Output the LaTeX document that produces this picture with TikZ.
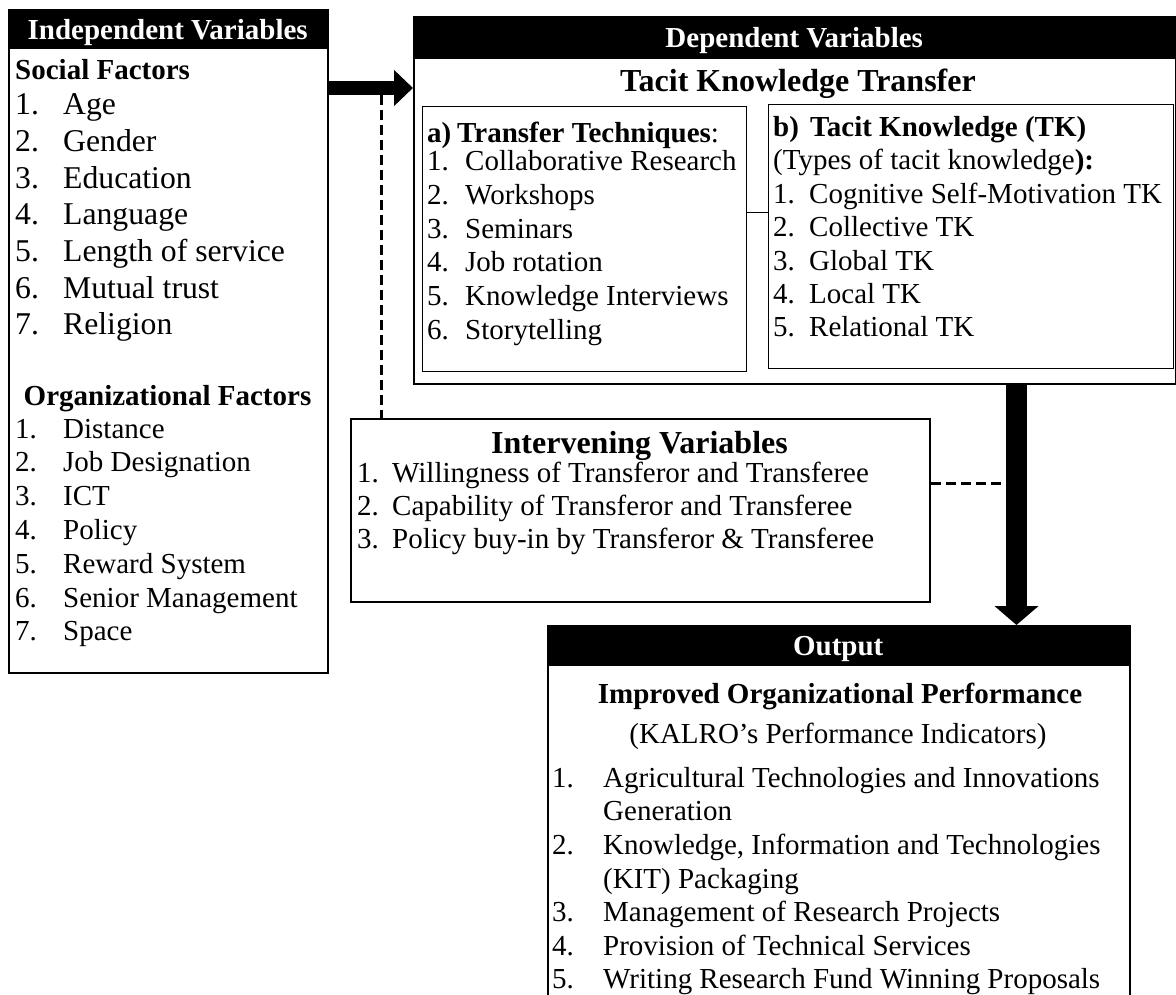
\documentclass[tikz,border=0pt]{standalone}
\usepackage{fontspec}
\setmainfont{Liberation Serif}
\usetikzlibrary{arrows.meta,calc}

\begin{document}
\begin{tikzpicture}[x=1pt,y=-1pt,
  frame/.style={draw,line width=2pt,anchor=north west,inner sep=0pt},
  subbox/.style={draw,line width=1pt,anchor=north west,inner sep=0pt},
  head/.style={fill=black,text=white,anchor=north west,inner sep=0pt,text depth=0pt,font=\bfseries\fontsize{29}{34}\selectfont},
  txt/.style={anchor=base west,inner sep=0pt,font=\fontsize{29}{34}\selectfont},
  bigtxt/.style={txt,font=\fontsize{31.7}{36}\selectfont},
  boldtxt/.style={txt,font=\bfseries\fontsize{29}{34}\selectfont},
  ttl/.style={anchor=base,inner sep=0pt,font=\bfseries\fontsize{32}{38}\selectfont},
  fat/.style={line width=14pt,-{Triangle[length=19pt,width=35pt]}},
  fatter/.style={line width=21pt,-{Triangle[length=19pt,width=43pt]}},
  dashline/.style={line width=3pt,dash pattern=on 10pt off 5pt},
]
\useasboundingbox (0,0) rectangle (1176,995);
\clip (0,0) rectangle (1176,995);

% independent variables
\node[frame,minimum width=319pt,minimum height=663pt] (indep) at (8,9) {};
\node[head,minimum width=319pt,minimum height=40pt] (indephead) at (indep.north west) {Independent Variables};
\node[boldtxt] (social) at (15,80) {Social Factors};
\foreach \t [count=\i] in {Age,Gender,Education,Language,Length of service,Mutual trust,Religion}
  \node[bigtxt] (soc\i) at (15,{115+36.6*(\i-1)}) {\makebox[48pt][l]{\i.}\t};
\node[boldtxt,anchor=base] (orgfac) at (167.5,405) {Organizational Factors};
\foreach \t [count=\i] in {Distance,Job Designation,ICT,Policy,Reward System,Senior Management,Space}
  \node[txt] (org\i) at (15,{438+33.8*(\i-1)}) {\makebox[48pt][l]{\i.}\t};

% dependent variables
\node[frame,minimum width=762pt,minimum height=367pt] (dep) at (413,16) {};
\node[head,minimum width=762pt,minimum height=43pt] (dephead) at (dep.north west) {Dependent Variables};
\node[ttl] (tkt) at (798,92) {Tacit Knowledge Transfer};

\node[subbox,minimum width=324pt,minimum height=265pt] (tech) at (422,106) {};
\node[txt] (techttl) at (427,143) {\makebox[30pt][l]{\textbf{a)}}\textbf{Transfer Techniques}:};
\foreach \t [count=\i] in {Collaborative Research,Workshops,Seminars,Job rotation,Knowledge Interviews,Storytelling}
  \node[txt] (tech\i) at (427,{171+33.6*(\i-1)}) {\makebox[38pt][l]{\i.}\t};

\node[subbox,minimum width=405pt,minimum height=264pt] (tk) at (768,104) {};
\node[txt] (tkttl) at (773,137) {\makebox[37pt][l]{\textbf{b)}}\textbf{Tacit Knowledge (TK)}};
\node[txt] (tktypes) at (773,170) {(Types of tacit knowledge\textbf{):}};
\foreach \t [count=\i] in {Cognitive Self-Motivation TK,Collective TK,Global TK,Local TK,Relational TK}
  \node[txt] (tk\i) at (773,{203.3+33.4*(\i-1)}) {\makebox[36pt][l]{\i.}\t};

\coordinate (link) at ([yshift=26.5pt]tech.east);
\draw[line width=1pt] (link) -- (link -| tk.west);

% intervening variables
\node[frame,minimum width=579pt,minimum height=183pt] (interv) at (350,418) {};
\node[ttl] (intervttl) at (639.5,453) {Intervening Variables};
\foreach \t [count=\i] in {Willingness of Transferor and Transferee,Capability of Transferor and Transferee,Policy buy-in by Transferor \& Transferee}
  \node[txt] (iv\i) at (357,{482+33*(\i-1)}) {\makebox[35pt][l]{\i.}\t};

% output
\node[frame,minimum width=582pt,minimum height=400pt] (outp) at (547,625) {};
\node[head,minimum width=582pt,minimum height=41pt] (outphead) at (outp.north west) {Output};
\node[boldtxt,anchor=base] (perf) at (840,703) {Improved Organizational Performance};
\node[txt,anchor=base] (kalro) at (838,743) {(KALRO’s Performance Indicators)};
\foreach \y/\n/\t [count=\i] in {787/1./Agricultural Technologies and Innovations,820.5//Generation,854/2./Knowledge{,} Information and Technologies,888//(KIT) Packaging,921.5/3./Management of Research Projects,955/4./Provision of Technical Services,988.5/5./Writing Research Fund Winning Proposals}
  \node[txt] (kpi\i) at (552,\y) {\makebox[51pt][l]{\n}\t};

% connectors
\coordinate (a1) at ([yshift=-79pt]indep.north east);
\draw[fat] (a1) -- (a1 -| dep.west);

\coordinate (dtop) at (381,95);
\draw[dashline] (dtop) -- (dtop |- interv.north);

\coordinate (vx) at (1016.5,383);
\coordinate (d2) at ([yshift=27.5pt]interv.east);
\draw[dashline] (d2) -- (d2 -| vx);
\draw[fatter] (vx |- dep.south) -- (vx |- outp.north);

\end{tikzpicture}
\end{document}
